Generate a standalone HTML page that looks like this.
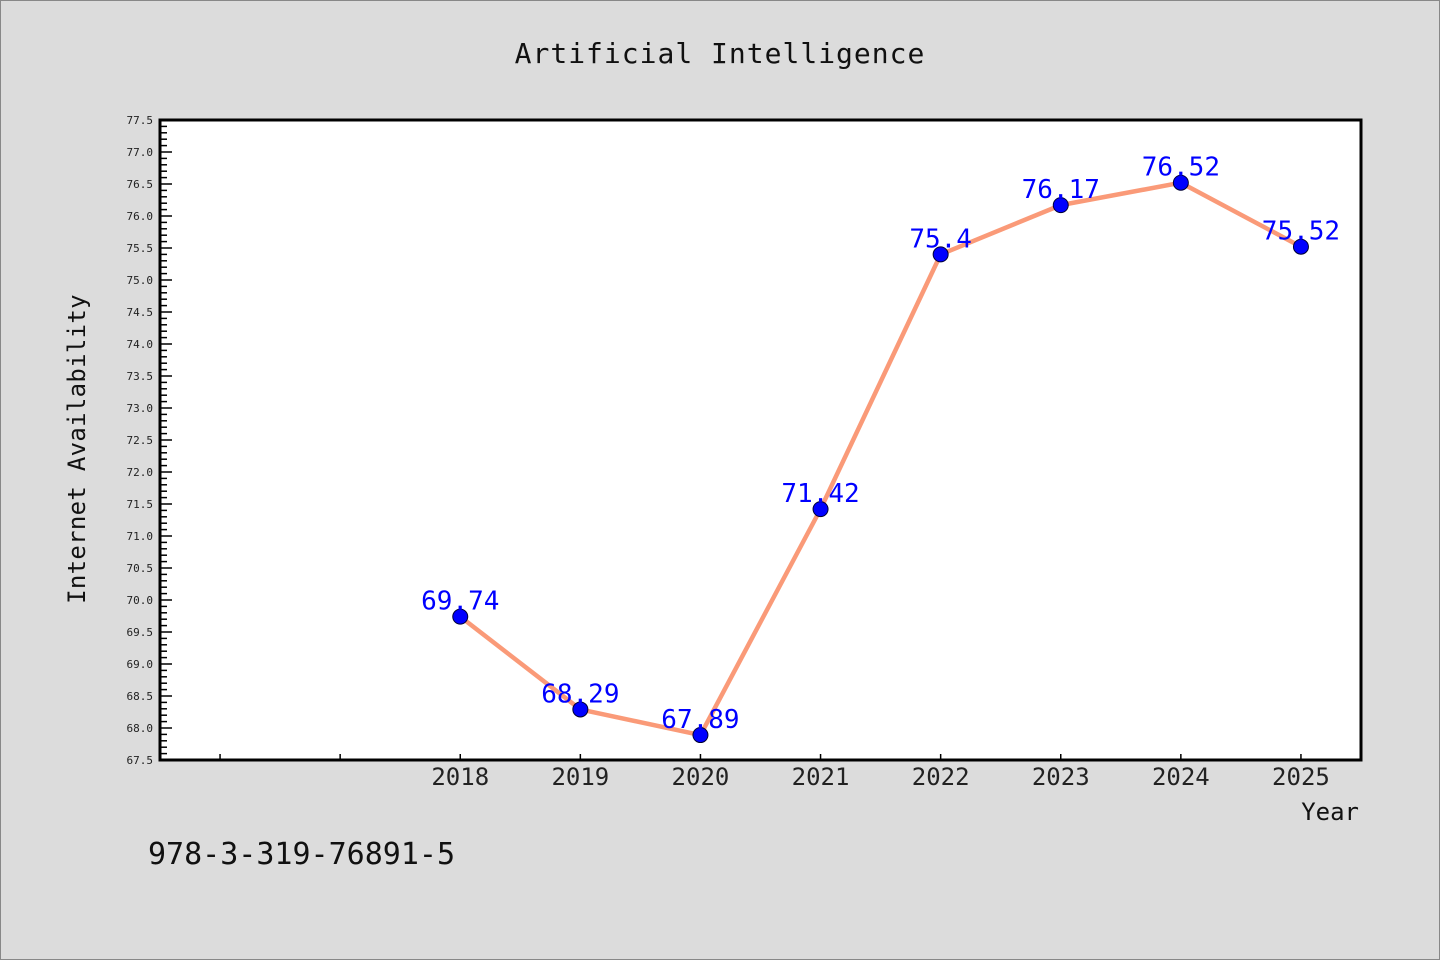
<!DOCTYPE html>
<html><head><meta charset="utf-8"><style>
body{margin:0;background:#dcdcdc;}
svg{display:block;font-family:"DejaVu Sans Mono","Liberation Mono",monospace;}
</style></head><body>
<svg id="chart" width="1440" height="960">
<rect x="0.5" y="0.5" width="1439" height="959" fill="#dcdcdc" stroke="#888"/>
<text x="720" y="63" text-anchor="middle" font-size="28" letter-spacing="1" fill="#111">Artificial Intelligence</text>
<rect x="160" y="120" width="1201" height="640" fill="#fff"/>
<g id="yaxis"></g>
<g id="xaxis"></g>
<g id="series"></g>
<rect x="160" y="120" width="1201" height="640" fill="none" stroke="#000" stroke-width="3"/>
<text transform="translate(85,449) rotate(-90)" text-anchor="middle" font-size="24" letter-spacing="0.3" fill="#111">Internet Availability</text>
<text x="1359" y="820" text-anchor="end" font-size="24" fill="#111">Year</text>
<text x="148" y="864" font-size="30" fill="#111">978-3-319-76891-5</text>
</svg>
<script>
const years = [2018, 2019, 2020, 2021, 2022, 2023, 2024, 2025];
const values = [69.74, 68.29, 67.89, 71.42, 75.4, 76.17, 76.52, 75.52];
const valueLabels = ["69.74", "68.29", "67.89", "71.42", "75.4", "76.17", "76.52", "75.52"];
const xTicks = [2016, 2017, 2018, 2019, 2020, 2021, 2022, 2023, 2024, 2025];
const xTickLabels = ["", "", "2018", "2019", "2020", "2021", "2022", "2023", "2024", "2025"];
const yMin = 67.5, yMax = 77.5;
const X0 = 160, X1 = 1361, Y0 = 760, Y1 = 120;
const xMin = 2015.5, xMax = 2025.5;
const sx = v => X0 + (v - xMin) / (xMax - xMin) * (X1 - X0);
const sy = v => Y0 - (v - yMin) / (yMax - yMin) * (Y0 - Y1);
const NS = "http://www.w3.org/2000/svg";
function mk(tag, attrs, parent) {
  const e = document.createElementNS(NS, tag);
  for (const k in attrs) e.setAttribute(k, attrs[k]);
  parent.appendChild(e);
  return e;
}
const ya = document.getElementById("yaxis");
for (let i = 0; i <= 100; i++) {
  const v = yMin + i * 0.1;
  const major = i % 5 === 0;
  const y = sy(v);
  const t = mk("line", {x1: X0, x2: X0 + (major ? 12 : 7), y1: y, y2: y, stroke: "#000", "stroke-width": 1.5}, ya);
  
  
  if (major) {
    const l = mk("text", {x: 153, y: y + 4, "text-anchor": "end", "font-size": 11, fill: "#222"}, ya);
    
    
    l.textContent = v.toFixed(1);
  }
}
const xa = document.getElementById("xaxis");
xTicks.forEach((v, i) => {
  const x = sx(v);
  const t = mk("line", {x1: x, x2: x, y1: Y0, y2: Y0 - 6, stroke: "#000", "stroke-width": 1.5}, xa);
  
  
  if (xTickLabels[i]) {
    const l = mk("text", {x: x, y: 785, "text-anchor": "middle", "font-size": 24, fill: "#222"}, xa);
    
    
    l.textContent = xTickLabels[i];
  }
});
const sg = document.getElementById("series");
const pts = years.map((y, i) => sx(y) + "," + sy(values[i])).join(" ");
const pl = mk("polyline", {points: pts, fill: "none", stroke: "#fa9a78", "stroke-width": 4.5, "stroke-linejoin": "round"}, sg);


years.forEach((y, i) => {
  const c = mk("circle", {cx: sx(y), cy: sy(values[i]), r: 7.5, fill: "#0000ff", stroke: "#000033", "stroke-width": 1}, sg);
  
  
  const t = mk("text", {x: sx(y), y: sy(values[i]) - 7, "text-anchor": "middle", "font-size": 26, fill: "#0000ff"}, sg);
  
  
  t.textContent = valueLabels[i];
});
</script>
</body></html>
